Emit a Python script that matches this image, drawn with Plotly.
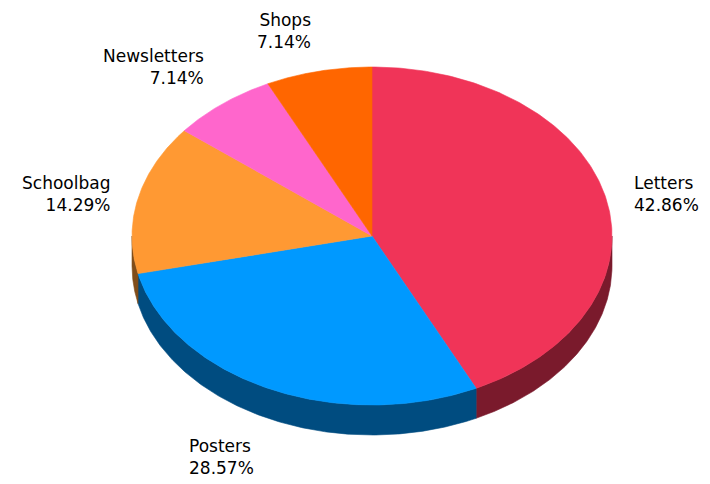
import numpy as np
import plotly.graph_objects as go

# ---- data ----
categories = ["Letters", "Posters", "Schoolbag", "Newsletters", "Shops"]
values = [6, 4, 2, 1, 1]
colors = ["#F03458", "#0099FF", "#FF9933", "#FF66CC", "#FF6600"]
side_colors = ["#7A1A2C", "#004C80", "#804D1A", "#803366", "#803300"]

# ---- geometry (pseudo-3D ellipse, in page pixels) ----
W, H = 710, 484
OFF = 8  # page body margin
CX, CY = 372, 236
RX, RY = 240, 169
DEPTH = 30


def arc(a0, a1, dy=0.0, n=200):
    t = np.radians(np.linspace(a0, a1, n))
    return CX + RX * np.sin(t), CY - RY * np.cos(t) + dy


fig = go.Figure()
total = float(sum(values))
angles = np.concatenate([[0.0], np.cumsum(values) / total * 360.0])

# side walls (front half only: angles 90..270)
for i, cat in enumerate(categories):
    a0, a1 = angles[i], angles[i + 1]
    lo, hi = max(a0, 90.0), min(a1, 270.0)
    if lo < hi:
        xt, yt = arc(lo, hi)
        xb, yb = arc(lo, hi, DEPTH)
        xs = np.concatenate([xt, xb[::-1], xt[:1]])
        ys = np.concatenate([yt, yb[::-1], yt[:1]])
        fig.add_trace(go.Scatter(x=xs, y=ys, mode="lines", fill="toself",
                                 fillcolor=side_colors[i],
                                 line=dict(color=side_colors[i], width=0.6),
                                 hoverinfo="skip", showlegend=False))

# top faces
for i, cat in enumerate(categories):
    a0, a1 = angles[i], angles[i + 1]
    xa, ya = arc(a0, a1)
    xs = np.concatenate([[CX], xa, [CX]])
    ys = np.concatenate([[CY], ya, [CY]])
    fig.add_trace(go.Scatter(x=xs, y=ys, mode="lines", fill="toself",
                             fillcolor=colors[i],
                             line=dict(color=colors[i], width=0.6),
                             hoverinfo="skip", showlegend=False, name=cat))

# labels
for i, cat in enumerate(categories):
    m = np.radians((angles[i] + angles[i + 1]) / 2)
    s, c = np.sin(m), np.cos(m)
    x = CX + (RX + 27) * s
    y = CY - (RY + 18) * c + (DEPTH if c < 0 else 0)
    xanchor = "left" if s > 0 else "right"
    if c > 0.5:
        yanchor = "bottom"
    elif c < -0.5:
        yanchor = "top"
    else:
        yanchor = "middle"
    align = "left" if (s > 0 or c < -0.5) else "right"
    pct = values[i] / total * 100
    fig.add_annotation(x=x, y=y, xref="x", yref="y", showarrow=False,
                       text=f"{cat}<br>{pct:.2f}%", xanchor=xanchor,
                       yanchor=yanchor, align=align,
                       font=dict(family="DejaVu Sans", size=17, color="#000000"))

fig.update_layout(
    width=W - OFF, height=H - OFF,
    margin=dict(l=0, r=0, t=0, b=0),
    paper_bgcolor="white", plot_bgcolor="white",
    showlegend=False, hovermode=False,
    xaxis=dict(range=[OFF, W], visible=False, fixedrange=True),
    yaxis=dict(range=[H, OFF], visible=False, fixedrange=True),
)

fig.write_html("out.html")
